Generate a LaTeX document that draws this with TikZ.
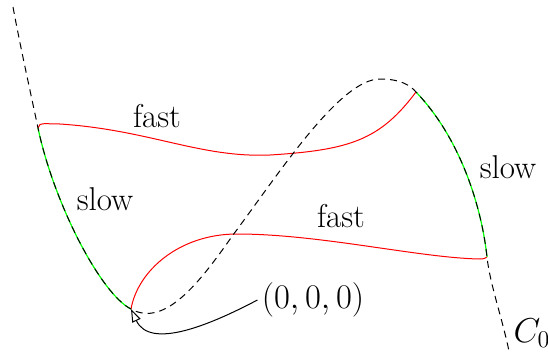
\documentclass[tikz,border=0pt]{standalone}
\usetikzlibrary{arrows.meta}
\begin{document}
\begin{tikzpicture}[x=0.5pt,y=-0.5pt,
  lbl/.style={font=\fontsize{16.5}{19}\selectfont, inner sep=0pt},
  curveC/.style={black, line width=0.5pt, dash pattern=on 3.5pt off 2.5pt},
  slowseg/.style={green, line width=0.6pt},
  fastseg/.style={red, line width=0.5pt},
  pointer/.style={black, line width=0.5pt, -{Triangle[open, length=6.5pt, width=4.5pt]}}]
\useasboundingbox (0,0) rectangle (548,354);
\coordinate (P0) at (13,7);
\coordinate (A) at (38,128);
\coordinate (B) at (131,309);
\coordinate (M) at (233,235);
\coordinate (T) at (380,79);
\coordinate (C) at (416,92);
\coordinate (D) at (487,257);
\coordinate (E) at (510,356);
% slow segments
\draw[slowseg] (A) .. controls (54,204) and (101,294) .. (B);
\draw[slowseg] (C) .. controls (462,140) and (482,210) .. (D);
% fast segments
\draw[fastseg] (A) .. controls (39,122) and (45,124) .. (60,124) .. controls (150,130) and (200,158) .. (270,155) .. controls (350,150) and (380,140) .. (C);
\draw[fastseg] (B) .. controls (138,270) and (180,234) .. (237,234) .. controls (320,234) and (420,258) .. (480,259) .. controls (484,259) and (486,258) .. (D);
% curve C0
\draw[curveC] (P0) .. controls (20,45) and (30,90) .. (A) .. controls (54,204) and (101,294) .. (B) .. controls (165,328) and (200,282) .. (M) .. controls (280,172) and (340,79) .. (T) .. controls (400,79) and (410,85) .. (C) .. controls (462,140) and (482,210) .. (D) .. controls (490,285) and (503,320) .. (E);
% labels
\node[lbl] (f1) at (157,116) {fast};
\node[lbl] (s1) at (105,199) {slow};
\node[lbl] (f2) at (341,216) {fast};
\node[lbl] (s2) at (508,167) {slow};
\node[lbl, inner sep=2pt] (o) at (313,300) {$(0,0,0)$};
\node[lbl] (c0) at (532,333) {$C_0$};
\draw[pointer] (o.west) .. controls (210,325) and (150,350) .. (B);
\end{tikzpicture}
\end{document}
